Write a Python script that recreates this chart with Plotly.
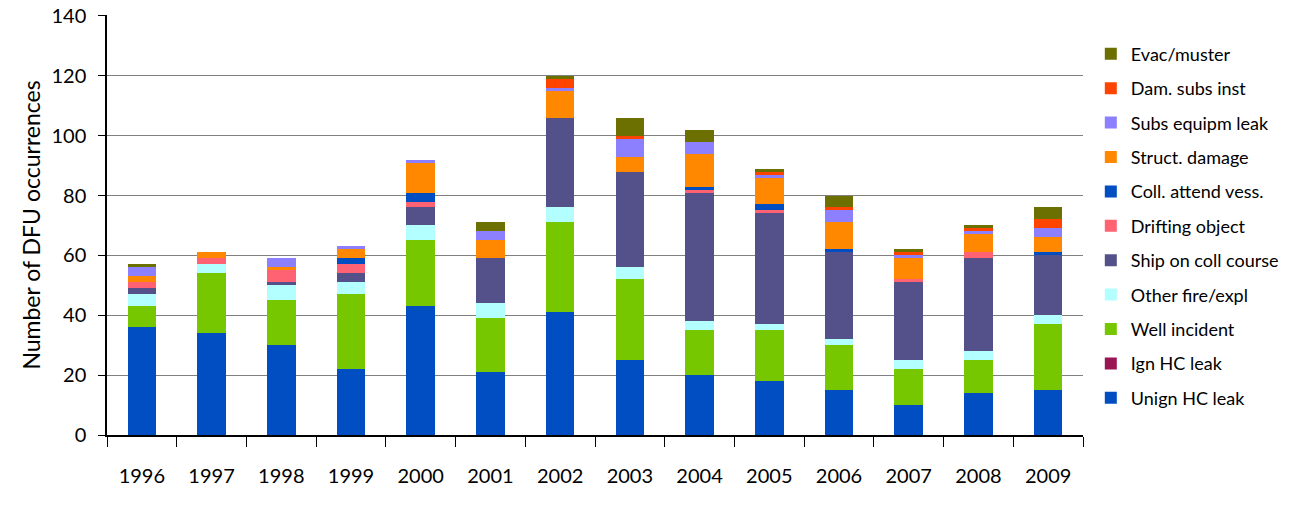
import plotly.graph_objects as go

years = ["1996", "1997", "1998", "1999", "2000", "2001", "2002",
         "2003", "2004", "2005", "2006", "2007", "2008", "2009"]

unign_hc_leak   = [36, 34, 30, 22, 43, 21, 41, 25, 20, 18, 15, 10, 14, 15]
ign_hc_leak     = [0, 0, 0, 0, 0, 0, 0, 0, 0, 0, 0, 0, 0, 0]
well_incident   = [7, 20, 15, 25, 22, 18, 30, 27, 15, 17, 15, 12, 11, 22]
other_fire_expl = [4, 3, 5, 4, 5, 5, 5, 4, 3, 2, 2, 3, 3, 3]
ship_coll       = [2, 0, 1, 3, 6, 15, 30, 32, 43, 37, 29, 26, 31, 20]
drifting_object = [2, 2, 4, 3, 2, 0, 0, 0, 1, 1, 0, 1, 2, 0]
coll_attend     = [0, 0, 0, 2, 3, 0, 0, 0, 1, 2, 1, 0, 0, 1]
struct_damage   = [2, 2, 1, 3, 10, 6, 9, 5, 11, 9, 9, 7, 6, 5]
subs_equipm     = [3, 0, 3, 1, 1, 3, 1, 6, 4, 1, 4, 1, 1, 3]
dam_subs_inst   = [0, 0, 0, 0, 0, 0, 3, 1, 0, 1, 1, 1, 1, 3]
evac_muster     = [1, 0, 0, 0, 0, 3, 1, 6, 4, 1, 4, 1, 1, 4]

series = [
    ("Unign HC leak", unign_hc_leak, "#004EC2"),
    ("Ign HC leak", ign_hc_leak, "#9A1652"),
    ("Well incident", well_incident, "#76C700"),
    ("Other fire/expl", other_fire_expl, "#B3FFFF"),
    ("Ship on coll course", ship_coll, "#545089"),
    ("Drifting object", drifting_object, "#FF6272"),
    ("Coll. attend vess.", coll_attend, "#004EC2"),
    ("Struct. damage", struct_damage, "#FF8800"),
    ("Subs equipm leak", subs_equipm, "#8C80FF"),
    ("Dam. subs inst", dam_subs_inst, "#FF4400"),
    ("Evac/muster", evac_muster, "#6C7000"),
]

fig = go.Figure()
n = len(series)
for i, (name, vals, color) in enumerate(series):
    fig.add_trace(go.Bar(
        x=years, y=vals, name=name, marker_color=color,
        marker_line_width=0, legendgroup=str(i), legendrank=n - i,
    ))

fig.update_layout(
    barmode="stack",
    bargap=0.59,
    width=1300, height=515,
    margin=dict(l=107, r=217, t=15, b=80, autoexpand=False),
    paper_bgcolor="white", plot_bgcolor="white",
    font=dict(family="Lato", size=20, color="black"),
    legend=dict(
        tracegroupgap=8,
        x=1.008, xanchor="left", y=0.951, yanchor="top",
        font=dict(size=18, family="Lato"),
        itemwidth=30,
    ),
    showlegend=True,
)
fig.update_xaxes(
    type="category", automargin=False,
    showline=True, linecolor="black", linewidth=1.5,
    ticks="outside", tickson="boundaries", ticklen=10, tickcolor="black",
    ticklabelstandoff=22,
    showgrid=False,
)
fig.update_yaxes(
    range=[0, 140.3], tick0=0, dtick=20, automargin=False,
    showline=True, linecolor="black", linewidth=1.5,
    ticks="outside", ticklen=7, tickcolor="black",
    ticklabelstandoff=8, ticklabeloverflow="allow",
    showgrid=True, gridcolor="#808080", gridwidth=1.2,
    title=dict(text="Number of DFU occurrences", font=dict(size=23), standoff=4),
    zeroline=False,
)

fig.write_html("out.html", config={"displayModeBar": False},
               post_script="document.body.style.margin='0';")
